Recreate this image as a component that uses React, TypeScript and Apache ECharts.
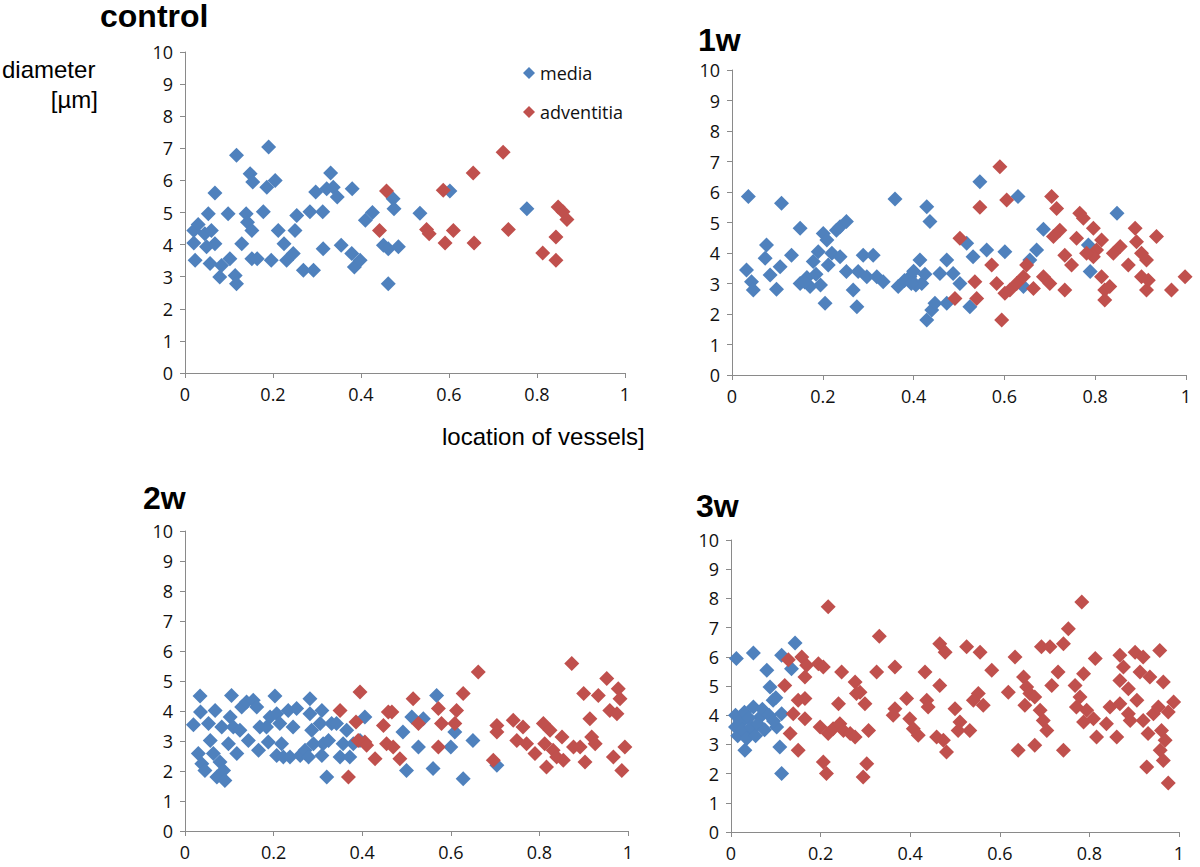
import React, { useEffect, useRef } from "react";
import * as echarts from "echarts";

// ---------- data: [location (0-1), diameter µm] ----------
const controlMedia: number[][] = [
  [0.023, 3.51], [0.02, 4.05], [0.02, 4.44], [0.03, 4.63], [0.045, 4.34], [0.053, 4.96], [0.049, 3.93],
  [0.06, 4.44], [0.068, 4.03], [0.068, 5.61], [0.057, 3.41], [0.079, 2.99], [0.083, 3.35], [0.098, 4.96],
  [0.102, 3.56], [0.114, 3.04], [0.117, 2.78], [0.117, 6.78], [0.129, 4.03], [0.139, 4.96], [0.142, 4.7],
  [0.148, 6.21], [0.154, 5.95], [0.152, 4.44], [0.152, 3.56], [0.164, 3.56], [0.178, 5.02], [0.186, 5.79],
  [0.19, 7.04], [0.205, 6.0], [0.196, 3.51], [0.212, 4.44], [0.225, 4.03], [0.231, 3.51], [0.246, 3.72],
  [0.25, 4.44], [0.254, 4.91], [0.269, 3.2], [0.292, 3.2], [0.284, 5.02], [0.297, 5.64], [0.313, 5.02],
  [0.314, 3.87], [0.322, 5.74], [0.331, 6.23], [0.337, 5.79], [0.346, 5.48], [0.355, 3.98], [0.38, 5.74],
  [0.379, 3.72], [0.385, 3.3], [0.398, 3.51], [0.41, 4.76], [0.426, 5.0], [0.451, 3.98], [0.462, 3.87],
  [0.485, 3.93], [0.462, 2.78], [0.473, 5.43], [0.475, 5.12], [0.534, 4.98], [0.602, 5.67], [0.777, 5.12],
];
const controlAdventitia: number[][] = [
  [0.442, 4.44], [0.458, 5.67], [0.549, 4.47], [0.555, 4.34], [0.587, 5.69], [0.591, 4.05], [0.61, 4.44],
  [0.655, 6.23], [0.657, 4.05], [0.723, 6.88], [0.735, 4.47], [0.813, 3.74], [0.843, 4.24], [0.843, 3.51],
  [0.848, 5.17], [0.859, 5.02], [0.868, 4.78],
];

const week1Media: number[][] = [
  [0.036, 5.85], [0.109, 5.63], [0.032, 3.44], [0.043, 3.06], [0.047, 2.79], [0.076, 4.26], [0.073, 3.83],
  [0.084, 3.28], [0.098, 2.81], [0.106, 3.55], [0.131, 3.93], [0.15, 4.81], [0.15, 3.0], [0.165, 3.2],
  [0.172, 2.9], [0.179, 3.72], [0.19, 4.04], [0.201, 4.64], [0.209, 4.43], [0.205, 2.35], [0.212, 3.61],
  [0.22, 3.99], [0.23, 4.75], [0.238, 4.86], [0.252, 5.03], [0.238, 3.88], [0.252, 3.39], [0.267, 2.79],
  [0.275, 2.24], [0.278, 3.39], [0.289, 3.93], [0.297, 3.22], [0.311, 3.93], [0.319, 3.22], [0.333, 3.06],
  [0.359, 5.77], [0.366, 2.9], [0.392, 3.22], [0.414, 3.77], [0.418, 3.0], [0.429, 5.52], [0.436, 5.03],
  [0.429, 1.8], [0.44, 2.13], [0.447, 2.35], [0.458, 3.33], [0.473, 3.77], [0.473, 2.35], [0.487, 3.33],
  [0.502, 3.0], [0.517, 4.32], [0.524, 2.24], [0.531, 3.88], [0.546, 6.34], [0.561, 4.1], [0.601, 4.04],
  [0.63, 5.85], [0.642, 2.9], [0.656, 3.77], [0.671, 4.1], [0.686, 4.78], [0.785, 4.26], [0.789, 3.39],
  [0.848, 5.3], [0.38, 3.1], [0.4, 3.4], [0.405, 2.95], [0.425, 3.3], [0.395, 3.0], [0.185, 3.3],
  [0.195, 2.95], [0.16, 3.05],
];
const week1Adventitia: number[][] = [
  [0.502, 4.48], [0.491, 2.51], [0.535, 3.06], [0.539, 2.51], [0.546, 5.5], [0.59, 6.83], [0.594, 1.8],
  [0.572, 3.61], [0.583, 3.0], [0.605, 5.74], [0.601, 2.68], [0.612, 2.79], [0.627, 3.0], [0.642, 3.22],
  [0.649, 3.61], [0.664, 2.84], [0.686, 3.22], [0.704, 5.85], [0.715, 5.46], [0.708, 4.54], [0.722, 4.75],
  [0.733, 3.93], [0.7, 3.0], [0.733, 2.79], [0.748, 3.61], [0.759, 4.48], [0.766, 5.3], [0.774, 5.14],
  [0.796, 4.81], [0.803, 4.1], [0.814, 4.43], [0.814, 3.22], [0.821, 2.79], [0.821, 2.46], [0.832, 2.9],
  [0.84, 3.99], [0.855, 4.21], [0.873, 3.61], [0.888, 4.81], [0.891, 4.37], [0.902, 3.99], [0.913, 3.77],
  [0.902, 3.22], [0.917, 3.11], [0.913, 2.79], [0.935, 4.54], [0.968, 2.79], [0.998, 3.22], [0.796, 3.88],
  [0.781, 3.99],
];

const week2Media: number[][] = [
  [0.019, 3.54], [0.034, 4.5], [0.035, 3.97], [0.03, 2.58], [0.038, 2.24], [0.045, 2.02], [0.053, 3.58],
  [0.057, 3.02], [0.064, 2.58], [0.068, 4.02], [0.072, 1.8], [0.079, 2.3], [0.083, 3.47], [0.087, 2.02],
  [0.09, 1.68], [0.098, 2.91], [0.102, 3.8], [0.105, 4.52], [0.109, 3.47], [0.117, 2.58], [0.124, 3.36],
  [0.128, 4.13], [0.139, 4.3], [0.143, 3.02], [0.154, 4.36], [0.162, 4.13], [0.166, 2.69], [0.169, 3.47],
  [0.184, 3.47], [0.192, 3.8], [0.188, 2.97], [0.203, 4.5], [0.207, 3.91], [0.207, 2.52], [0.214, 3.58],
  [0.218, 2.91], [0.222, 2.47], [0.233, 4.02], [0.237, 2.47], [0.244, 3.47], [0.252, 4.08], [0.26, 2.52],
  [0.271, 2.69], [0.279, 2.47], [0.282, 4.41], [0.282, 3.91], [0.286, 3.36], [0.29, 2.91], [0.305, 3.58],
  [0.309, 4.02], [0.312, 2.91], [0.309, 2.52], [0.32, 1.8], [0.324, 3.02], [0.331, 3.58], [0.342, 3.58],
  [0.35, 2.47], [0.357, 2.91], [0.365, 3.36], [0.372, 2.47], [0.38, 2.91], [0.395, 3.02], [0.406, 3.8],
  [0.568, 4.52], [0.512, 3.8], [0.538, 3.74], [0.492, 3.3], [0.527, 2.8], [0.5, 2.02], [0.56, 2.08],
  [0.6, 2.8], [0.609, 3.3], [0.65, 3.02], [0.628, 1.74], [0.704, 2.19],
];
const week2Adventitia: number[][] = [
  [0.35, 4.02], [0.369, 1.8], [0.386, 3.63], [0.395, 4.63], [0.391, 3.02], [0.406, 2.97], [0.41, 2.86],
  [0.429, 2.41], [0.448, 3.52], [0.455, 2.91], [0.459, 3.97], [0.467, 3.97], [0.47, 2.8], [0.485, 2.41],
  [0.515, 4.41], [0.527, 3.58], [0.572, 4.08], [0.579, 3.58], [0.572, 2.8], [0.613, 4.02], [0.609, 3.58],
  [0.628, 4.58], [0.662, 5.3], [0.696, 2.36], [0.704, 3.52], [0.704, 3.3], [0.741, 3.69], [0.749, 3.02],
  [0.763, 3.47], [0.771, 2.91], [0.79, 2.58], [0.809, 3.58], [0.812, 2.91], [0.816, 2.13], [0.824, 3.36],
  [0.831, 2.69], [0.839, 2.47], [0.851, 3.13], [0.854, 2.36], [0.873, 5.58], [0.877, 2.8], [0.892, 2.8],
  [0.9, 4.58], [0.903, 2.3], [0.914, 3.74], [0.918, 3.13], [0.926, 2.91], [0.933, 4.52], [0.952, 5.08],
  [0.959, 4.02], [0.967, 2.47], [0.978, 4.74], [0.982, 4.41], [0.986, 2.02], [0.993, 2.8], [0.975, 3.91],
];

const week3Media: number[][] = [
  [0.05, 6.13], [0.012, 5.94], [0.143, 6.47], [0.113, 6.05], [0.08, 5.54], [0.135, 5.59], [0.087, 4.97],
  [0.094, 4.51], [0.065, 3.94], [0.042, 3.48], [0.031, 2.8], [0.102, 3.6], [0.113, 4.05], [0.109, 2.91],
  [0.113, 2.0], [0.05, 4.28], [0.027, 3.82], [0.01, 3.6], [0.01, 4.0], [0.015, 3.3], [0.02, 3.8],
  [0.025, 3.5], [0.03, 4.1], [0.035, 3.2], [0.04, 3.9], [0.045, 3.6], [0.055, 3.3], [0.06, 3.7],
  [0.07, 4.2], [0.075, 3.5], [0.085, 4.0], [0.095, 3.8], [0.1, 4.6],
];
const week3Adventitia: number[][] = [
  [0.217, 7.71], [0.331, 6.7], [0.128, 5.9], [0.158, 5.99], [0.169, 5.71], [0.195, 5.76], [0.206, 5.65],
  [0.165, 5.31], [0.12, 5.02], [0.247, 5.48], [0.277, 5.14], [0.288, 4.79], [0.299, 4.39], [0.325, 5.48],
  [0.366, 5.65], [0.433, 5.48], [0.466, 6.45], [0.478, 6.16], [0.526, 6.34], [0.556, 6.16], [0.582, 5.54],
  [0.466, 5.02], [0.392, 4.57], [0.366, 4.22], [0.362, 4.0], [0.399, 3.88], [0.437, 4.51], [0.44, 4.28],
  [0.5, 4.22], [0.552, 4.74], [0.563, 4.34], [0.541, 4.51], [0.407, 3.54], [0.418, 3.31], [0.459, 3.25],
  [0.474, 3.14], [0.481, 2.74], [0.511, 3.77], [0.533, 3.48], [0.507, 3.48], [0.15, 4.51], [0.165, 4.57],
  [0.139, 4.05], [0.165, 3.88], [0.132, 3.37], [0.15, 2.8], [0.199, 3.6], [0.217, 3.37], [0.228, 3.54],
  [0.243, 3.71], [0.24, 4.39], [0.251, 3.48], [0.266, 3.37], [0.277, 3.25], [0.307, 3.48], [0.206, 2.4],
  [0.213, 2.0], [0.303, 2.34], [0.295, 1.88], [0.28, 4.74], [0.634, 5.99], [0.619, 4.79], [0.653, 5.31],
  [0.66, 4.97], [0.667, 4.74], [0.656, 4.34], [0.678, 4.62], [0.69, 4.17], [0.697, 3.82], [0.705, 3.48],
  [0.693, 6.34], [0.712, 6.34], [0.716, 5.02], [0.73, 5.48], [0.742, 6.45], [0.753, 6.96], [0.783, 7.88],
  [0.641, 2.8], [0.678, 2.97], [0.742, 2.8], [0.768, 5.02], [0.771, 4.28], [0.779, 4.62], [0.794, 4.17],
  [0.809, 3.88], [0.816, 3.25], [0.787, 3.77], [0.813, 5.94], [0.787, 5.42], [0.838, 3.71], [0.861, 3.25],
  [0.868, 6.05], [0.876, 5.65], [0.868, 5.19], [0.887, 4.91], [0.902, 6.16], [0.92, 5.99], [0.913, 5.48],
  [0.935, 5.31], [0.957, 6.22], [0.965, 5.14], [0.846, 4.28], [0.868, 4.39], [0.887, 4.05], [0.906, 4.51],
  [0.92, 3.82], [0.931, 3.37], [0.943, 4.05], [0.954, 4.28], [0.961, 3.48], [0.969, 3.14], [0.958, 2.8],
  [0.965, 2.45], [0.988, 4.45], [0.976, 4.11], [0.928, 2.23], [0.976, 1.68], [0.891, 3.82],
];

const panelTitles = ["control", "1w", "2w", "3w"];
const seriesNames = ["media", "adventitia"];
const xTicks = [0, 0.2, 0.4, 0.6, 0.8, 1];
const yTicks = [0, 1, 2, 3, 4, 5, 6, 7, 8, 9, 10];

const panels = [
  [controlMedia, controlAdventitia],
  [week1Media, week1Adventitia],
  [week2Media, week2Adventitia],
  [week3Media, week3Adventitia],
];

// ---------- layout / style ----------
const grids = [
  { left: 185, top: 52, width: 440, height: 321 },
  { left: 732, top: 70, width: 454, height: 305 },
  { left: 185, top: 531, width: 443, height: 300 },
  { left: 731, top: 540, width: 448, height: 292 },
];
// top of the text box of the bold panel titles
const titlePos = [
  { x: 100, y: 0 },
  { x: 698, y: 24 },
  { x: 143, y: 482 },
  { x: 696, y: 490 },
];
const COLORS = ["#4F81BD", "#C0504D"];
const AXIS_COLOR = "#8a8a8a";
const TICK_FONT = "'Open Sans', 'Noto Sans', sans-serif";
const TEXT_FONT = "'Liberation Sans', Arial, sans-serif";

export default function App() {
  const ref = useRef<HTMLDivElement>(null);

  useEffect(() => {
    if (!ref.current) return;
    const chart = echarts.init(ref.current, null, { renderer: "svg" });

    const axisCommon = {
      axisLine: { show: true, lineStyle: { color: AXIS_COLOR, width: 1 } },
      axisTick: { show: true, inside: false, length: 5, lineStyle: { color: AXIS_COLOR } },
      splitLine: { show: false },
      axisLabel: { color: "#111", fontSize: 18, fontFamily: TICK_FONT, margin: 12 },
    };

    const xAxis = grids.map((_, i) => ({
      ...axisCommon,
      type: "value",
      gridIndex: i,
      min: xTicks[0],
      max: xTicks[xTicks.length - 1],
      interval: xTicks[1] - xTicks[0],
    }));
    const yAxis = grids.map((_, i) => ({
      ...axisCommon,
      type: "value",
      gridIndex: i,
      min: yTicks[0],
      max: yTicks[yTicks.length - 1],
      interval: yTicks[1] - yTicks[0],
    }));

    const series: any[] = [];
    panels.forEach((pair, i) => {
      pair.forEach((data, s) => {
        series.push({
          type: "scatter",
          name: seriesNames[s],
          xAxisIndex: i,
          yAxisIndex: i,
          data,
          symbol: "diamond",
          symbolSize: 15,
          itemStyle: { color: COLORS[s], opacity: 1 },
          z: 2 + s,
        });
      });
    });

    const graphic: any[] = panelTitles.map((t, i) => ({
      type: "text",
      x: titlePos[i].x,
      y: titlePos[i].y,
      style: {
        text: t,
        font: `bold 32px ${TEXT_FONT}`,
        fill: "#000",
        textAlign: "left",
        textVerticalAlign: "top",
      },
    }));
    graphic.push(
      {
        type: "text",
        x: 2,
        y: 69,
        style: { text: "diameter", font: `24px ${TEXT_FONT}`, fill: "#000", textAlign: "left", textVerticalAlign: "middle" },
      },
      {
        type: "text",
        x: 98,
        y: 99,
        style: { text: "[µm]", font: `24px ${TEXT_FONT}`, fill: "#000", textAlign: "right", textVerticalAlign: "middle" },
      },
      {
        type: "text",
        x: 442,
        y: 436,
        style: { text: "location of vessels]", font: `24px ${TEXT_FONT}`, fill: "#000", textAlign: "left", textVerticalAlign: "middle" },
      }
    );

    chart.setOption({
      animation: false,
      backgroundColor: "#fff",
      grid: grids.map((g) => ({ ...g, containLabel: false })),
      xAxis,
      yAxis,
      legend: {
        data: seriesNames.map((n) => ({ name: n, icon: "diamond" })),
        orient: "vertical",
        left: 518,
        top: 58,
        itemWidth: 12,
        itemHeight: 12,
        itemGap: 19,
        textStyle: { fontSize: 18, fontFamily: TICK_FONT, color: "#111", lineHeight: 20 },
        selectedMode: false,
      },
      series,
      graphic,
    });

    return () => chart.dispose();
  }, []);

  return (
    <div
      ref={ref}
      style={{ position: "fixed", left: 0, top: 0, width: 1200, height: 867, background: "#fff" }}
    />
  );
}
